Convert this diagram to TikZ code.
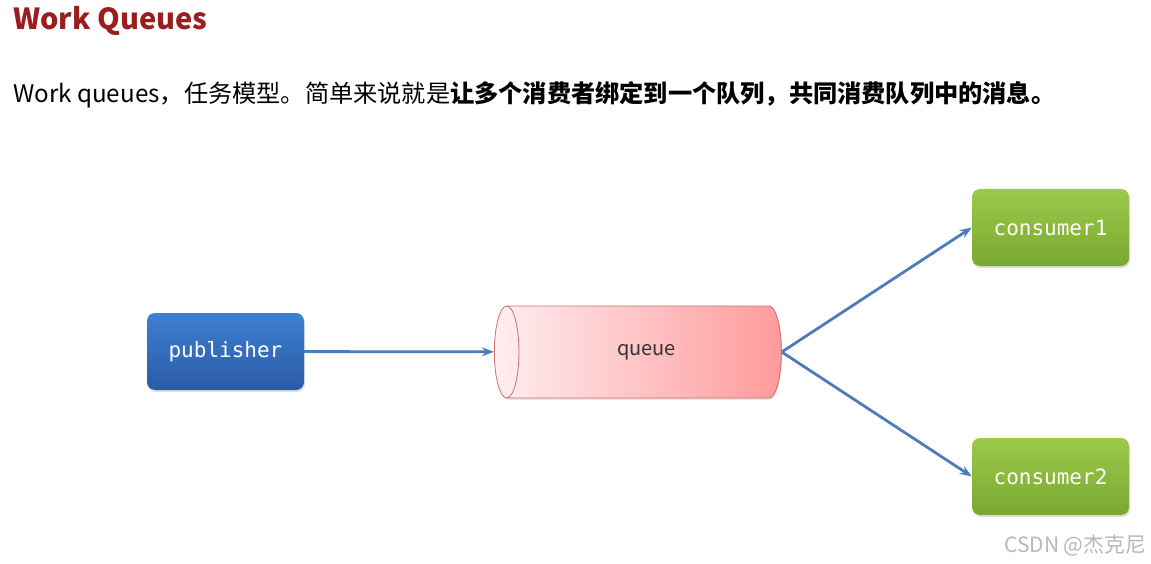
\documentclass[tikz,border=0pt]{standalone}
\usepackage{fontspec}
\setmainfont{Noto Sans CJK SC}
\newfontfamily\cjk{Noto Sans CJK SC}
\setmonofont{DejaVu Sans Mono}
\usepackage{tikz}
\usetikzlibrary{positioning, arrows.meta, shapes.geometric, shadows}
\definecolor{titleRed}{HTML}{9A1E1E}
\definecolor{pubTop}{HTML}{3E80D2}
\definecolor{pubBot}{HTML}{2A5BA6}
\definecolor{conTop}{HTML}{9CC94C}
\definecolor{conBot}{HTML}{78A92E}
\definecolor{queueL}{HTML}{FFEEF0}
\definecolor{queueR}{HTML}{FF9A9B}
\definecolor{queueEdge}{HTML}{C97070}
\definecolor{arrowBlue}{HTML}{4A7DBA}

\begin{document}
\begin{tikzpicture}[
    x=1pt, y=-1pt,
    box/.style={rounded corners=8pt, minimum width=157pt, minimum height=77pt, align=center,
      font=\ttfamily\fontsize{21}{24}\selectfont, text=white,
      drop shadow={opacity=0.25, shadow xshift=1pt, shadow yshift=-2pt}},
    pub/.style={box, top color=pubTop, bottom color=pubBot},
    con/.style={box, top color=conTop, bottom color=conBot},
    arr/.style={-{Stealth[length=12pt, width=9pt]}, line width=2.8pt, arrowBlue},
    note/.style={inner sep=0pt, anchor=west},
  ]
    \useasboundingbox (0,0) rectangle (1151,564);

    \node[note, text=titleRed, font=\bfseries\fontsize{29}{32}\selectfont] (title) at (13,21) {Work Queues};
    \node[note, font=\fontsize{24.2}{28}\selectfont] (intro) at (13,95)
      {Work queues，任务模型。简单来说就是\textbf{让多个消费者绑定到一个队列，共同消费队列中的消息。}};

    \node[pub] (publisher) at (225.5,351.5) {publisher};
    \node[cylinder, shape border rotate=180, aspect=1.1, draw=queueEdge, line width=0.8pt,
      left color=queueL, right color=queueR, minimum width=92pt, minimum height=287pt,
      text=black!80, font=\fontsize{20}{24}\selectfont,
      drop shadow={opacity=0.2, shadow xshift=1pt, shadow yshift=-2pt}] (queue) at (646.5,352) {queue};
    \node[con] (consumer1) at (1050.5,227.5) {consumer1};
    \node[con] (consumer2) at (1050.5,476.5) {consumer2};

    \draw[arr] (publisher) -- (queue);
    \draw[arr] (queue.east) -- (consumer1.west);
    \draw[arr] (queue.east) -- (consumer2.west);

    \node[note, anchor=east, text=black!28, font=\fontsize{21}{24}\selectfont] (mark) at (1147,545) {CSDN @杰克尼};
  \end{tikzpicture}
\end{document}
